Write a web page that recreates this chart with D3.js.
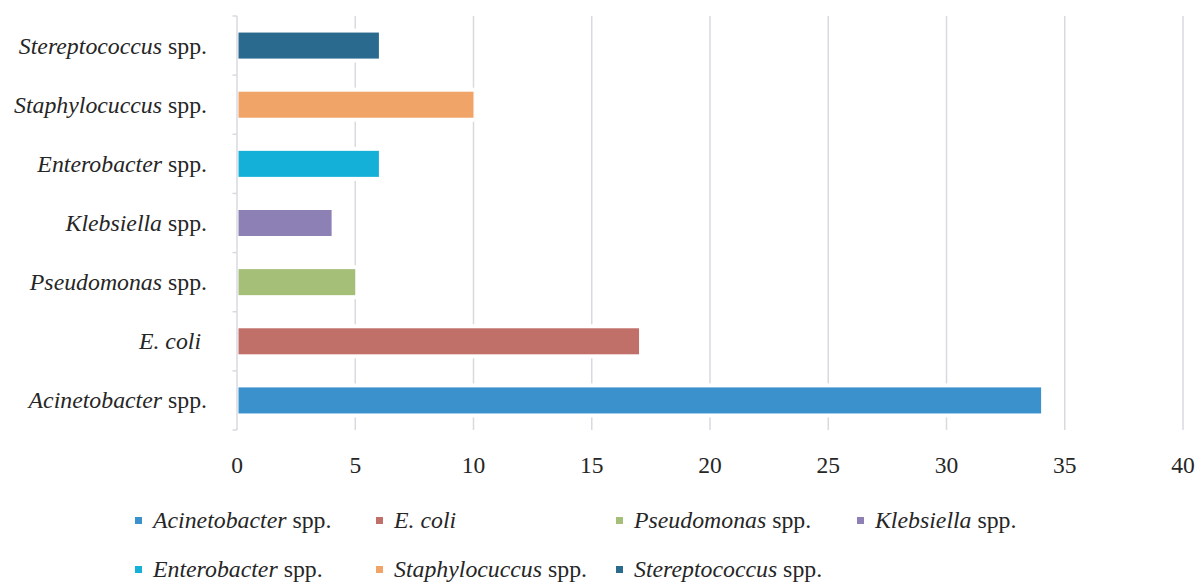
<!DOCTYPE html>
<html><head><meta charset="utf-8">
<script src="https://cdn.jsdelivr.net/npm/d3@7"></script>
<style>body{margin:0;background:#fff}svg{display:block}text{font-family:"Liberation Serif",serif;fill:#262626}</style>
</head><body><svg id="c" width="1201" height="583"></svg>
<script>
const genus = ["Acinetobacter","E. coli","Pseudomonas","Klebsiella","Enterobacter","Staphylocuccus","Stereptococcus"];
const suffix = [" spp.","\u00a0"," spp."," spp."," spp."," spp."," spp."];
const values = [34,17,5,4,6,10,6];
const colors = ["#3a91cc","#c06f69","#a5bf78","#8c80b5","#15b0d8","#f0a468","#2a6a8e"];
const xTicks = [0,5,10,15,20,25,30,35,40];

(function(){
const svg = d3.select("#c");
const pl = 237, pr = 1183, pt = 16, pb = 430;
const x = d3.scaleLinear().domain([0,40]).range([pl,pr]);
const y = d3.scaleBand().domain(d3.range(genus.length).reverse()).range([pt,pb]).paddingInner(0.56).paddingOuter(0.28);
const yb = d3.scaleBand().domain(d3.range(genus.length).reverse()).range([pt,pb]);
const grid = "#d9dae0";

svg.append("g").selectAll("line").data(xTicks.slice(1)).join("line")
  .attr("x1",d=>x(d)).attr("x2",d=>x(d)).attr("y1",pt).attr("y2",pb)
  .attr("stroke",grid).attr("stroke-width",1.5);
svg.append("line").attr("x1",pl).attr("x2",pl).attr("y1",pt).attr("y2",pb).attr("stroke",grid).attr("stroke-width",1.5);
svg.append("g").selectAll("line").data(d3.range(genus.length+1)).join("line")
  .attr("x1",pl-4.5).attr("x2",pl).attr("y1",i=>pt+i*yb.step()).attr("y2",i=>pt+i*yb.step())
  .attr("stroke",grid).attr("stroke-width",1.5);

const bars = svg.append("g");
bars.selectAll("rect.halo").data(values).join("rect").attr("class","halo")
  .attr("x",x(0)+1).attr("y",(d,i)=>y(i)-4).attr("width",d=>x(d)-x(0)).attr("height",y.bandwidth()+8).attr("fill","#fff");
bars.selectAll("rect.bar").data(values).join("rect").attr("class","bar")
  .attr("x",x(0)+1.5).attr("y",(d,i)=>y(i)).attr("width",d=>x(d)-x(0)-1.5).attr("height",y.bandwidth())
  .attr("fill",(d,i)=>colors[i]);

const lab = svg.append("g").selectAll("text").data(genus).join("text")
  .attr("x",207).attr("y",(d,i)=>y(i)+y.bandwidth()/2+8).attr("text-anchor","end")
  .style("font-size","23.8px").style("white-space","pre");
lab.append("tspan").style("font-style","italic").text(d=>d);
lab.append("tspan").text((d,i)=>suffix[i]);

svg.append("g").selectAll("text").data(xTicks).join("text")
  .attr("x",d=>x(d)).attr("y",473).attr("text-anchor","middle").style("font-size","23.5px").text(d=>d);

const legX = [135,376,616,857];
const leg = svg.append("g").selectAll("g").data(d3.range(genus.length)).join("g")
  .attr("transform",(d,k)=>`translate(${legX[k%4]},${k<4?528:577})`);
leg.append("rect").attr("x",0).attr("y",-11).attr("width",7).attr("height",7).attr("fill",d=>colors[d]);
const lt = leg.append("text").attr("x",18).attr("y",0).style("font-size","23.8px").style("white-space","pre");
lt.append("tspan").style("font-style","italic").text(d=>genus[d]);
lt.append("tspan").text(d=>d===1?"":" spp.");
})();
</script></body></html>
